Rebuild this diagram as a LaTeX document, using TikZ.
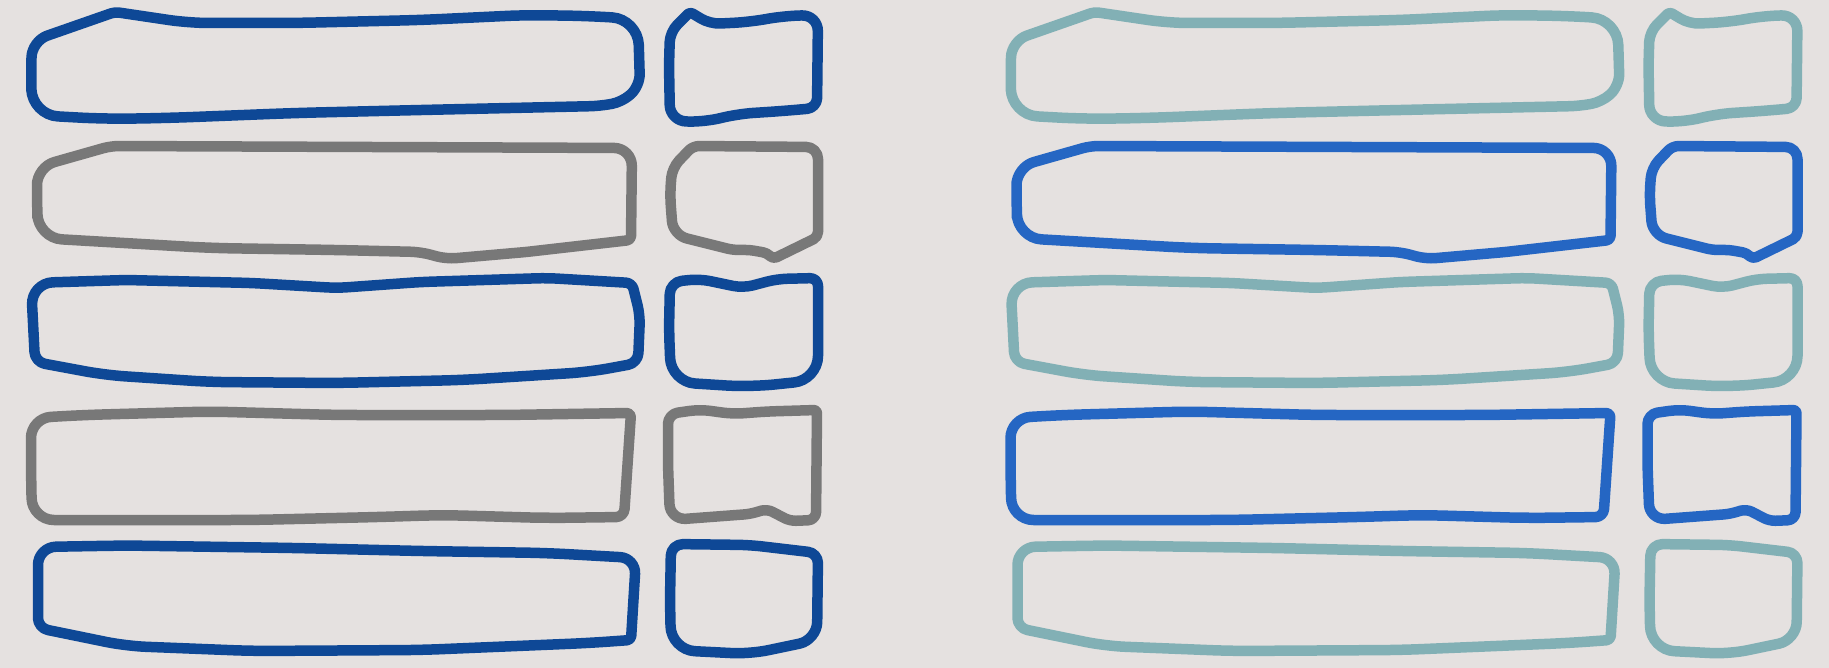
\documentclass[tikz,border=0pt]{standalone}
\definecolor{bg}{HTML}{E5E1E0}
\definecolor{dblue}{HTML}{0E4896}
\definecolor{mgray}{HTML}{787878}
\definecolor{tealc}{HTML}{82B0B5}
\definecolor{bblue}{HTML}{2566C3}
\tikzset{stroke/.style={line width=10.5pt, line join=round, line cap=round},
  rc/.style={rounded corners=#1}}
\begin{document}
\begin{tikzpicture}[x=1pt,y=-1pt]
\fill[bg] (0,0) rectangle (1829,668);
\useasboundingbox (0,0) rectangle (1829,668);
\foreach \dx/\ca/\cb in {0/dblue/mgray, 979.5/tealc/bblue}{
\begin{scope}[xshift=\dx]
% row 1 big
\draw[stroke,\ca] (31,75) [rc=26pt] -- (32,115) -- (105,119) -- (168,118) -- (295,113) -- (421,110) [rc=10pt] -- (600,106) -- (622,102) [rc=12pt] -- (640,86) [rc=26pt] -- (638,19) [rc=20pt] -- (589,16) -- (526,15) -- (421,20) -- (295,23) -- (189,23) [rc=4pt] -- (115,12) [rc=16pt] -- (32,41) -- cycle;
% row 1 small
\draw[stroke,\ca] (669,65) [rc=16pt] -- (670,121) -- (705,122) -- (737,114) -- (783,111) [rc=10pt] -- (817,108) [rc=16pt] -- (818,15) -- (783,16) -- (750,22) [rc=10pt] -- (710,24) [rc=3pt] -- (690,12) [rc=10pt] -- (670,32) -- cycle;
% row 2 big
\draw[stroke,\cb] (37,200) [rc=24pt] -- (38,238) -- (210,248) -- (337,250) [rc=10pt] -- (421,252) -- (446,259) [rc=4pt] -- (526,252) -- (631,240) [rc=18pt] -- (632,148) [rc=8pt] -- (111,146) [rc=18pt] -- (37,167) -- cycle;
% row 2 small
\draw[stroke,\cb] (670,195) [rc=14pt] -- (673,235) [rc=6pt] -- (733,250) [rc=4pt] -- (750,250) -- (767,253) -- (773,259) [rc=5pt] -- (818,237) [rc=12pt] -- (818,147) [rc=6pt] -- (693,146) [rc=10pt] -- (672,168) -- cycle;
% row 3 big
\draw[stroke,\ca] (337,383) [rc=20pt] -- (463,380) -- (589,372) [rc=10pt] -- (638,363) -- (640,315) [rc=6pt] -- (632,283) [rc=10pt] -- (547,278) -- (421,282) -- (337,288) -- (252,283) -- (126,280) [rc=22pt] -- (31,283) [rc=10pt] -- (35,362) [rc=20pt] -- (105,375) -- (210,382) -- cycle;
% row 3 small
\draw[stroke,\ca] (669,330) [rc=24pt] -- (671,382) -- (750,387) -- (818,380) [rc=8pt] -- (818,278) [rc=10pt] -- (777,279) -- (743,288) -- (700,279) [rc=12pt] -- (670,282) -- cycle;
% row 4 big
\draw[stroke,\cb] (31,470) [rc=22pt] -- (32,520) -- (105,520) -- (252,520) -- (379,517) -- (442,515) -- (547,518) [rc=8pt] -- (624,517) [rc=4pt] -- (631,413) [rc=20pt] -- (505,415) -- (337,415) -- (210,411.5) -- (84,415) -- (31,418) -- cycle;
% row 4 small
\draw[stroke,\cb] (668,465) [rc=16pt] -- (670,520) [rc=6pt] -- (750,514) -- (767,509) -- (790,521) [rc=8pt] -- (816,520) [rc=3pt] -- (817,410) [rc=10pt] -- (767,411.5) -- (733,414) -- (700,409.5) -- (668,414) -- cycle;
% row 5 big
\draw[stroke,\ca] (38,600) [rc=10pt] -- (38,628) [rc=20pt] -- (126,646) -- (252.5,651) -- (421,650) -- (589,643) [rc=4pt] -- (631,640) [rc=16pt] -- (636,558) [rc=20pt] -- (547,553) -- (421,551) -- (295,548) -- (126,545.5) [rc=18pt] -- (38,547) -- cycle;
% row 5 small
\draw[stroke,\ca] (670,600) [rc=24pt] -- (671,650) [rc=18pt] -- (750,654) -- (817,640) [rc=10pt] -- (818,553) [rc=12pt] -- (750,545) -- (671,544) -- cycle;
\end{scope}}
\end{tikzpicture}
\end{document}
